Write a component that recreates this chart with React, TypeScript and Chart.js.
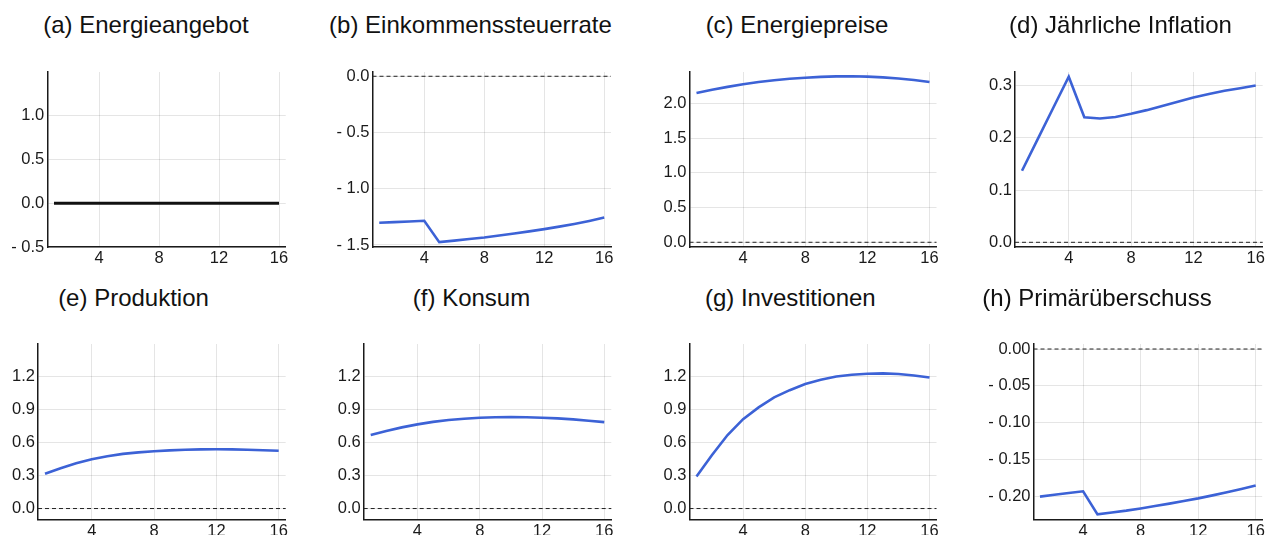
import React, { useEffect, useRef } from "react";
import { Chart, registerables } from "chart.js";

Chart.register(...registerables);

// ---------- data ----------
const periods = [1, 2, 3, 4, 5, 6, 7, 8, 9, 10, 11, 12, 13, 14, 15, 16];
const xTicks = [4, 8, 12, 16];

const energieangebot = [0, 0, 0, 0, 0, 0, 0, 0, 0, 0, 0, 0, 0, 0, 0, 0];
const einkommenssteuerrate = [-1.303, -1.297, -1.291, -1.285, -1.475, -1.461, -1.447, -1.433, -1.416, -1.398, -1.379, -1.359, -1.337, -1.313, -1.286, -1.256];
const energiepreise = [2.148, 2.195, 2.236, 2.273, 2.305, 2.332, 2.352, 2.368, 2.38, 2.387, 2.388, 2.383, 2.372, 2.357, 2.334, 2.306];
const inflation = [0.137, 0.197, 0.257, 0.317, 0.2395, 0.237, 0.24, 0.246, 0.253, 0.261, 0.269, 0.277, 0.284, 0.29, 0.295, 0.3];
const produktion = [0.318, 0.368, 0.412, 0.449, 0.477, 0.498, 0.512, 0.522, 0.53, 0.536, 0.539, 0.54, 0.539, 0.536, 0.532, 0.527];
const konsum = [0.67, 0.707, 0.74, 0.767, 0.79, 0.807, 0.819, 0.827, 0.832, 0.834, 0.832, 0.828, 0.822, 0.813, 0.801, 0.788];
const investitionen = [0.291, 0.488, 0.67, 0.815, 0.922, 1.013, 1.079, 1.136, 1.175, 1.203, 1.22, 1.229, 1.232, 1.226, 1.213, 1.194];
const primaerueberschuss = [-0.2, -0.1975, -0.195, -0.1928, -0.224, -0.2215, -0.219, -0.216, -0.2128, -0.2095, -0.206, -0.2024, -0.1983, -0.1942, -0.1898, -0.185];

const titles = [
  "(a) Energieangebot",
  "(b) Einkommenssteuerrate",
  "(c) Energiepreise",
  "(d) Jährliche Inflation",
  "(e) Produktion",
  "(f) Konsum",
  "(g) Investitionen",
  "(h) Primärüberschuss",
];

const yTicksA = [-0.5, 0, 0.5, 1.0];
const yTicksB = [-1.5, -1.0, -0.5, 0];
const yTicksC = [0, 0.5, 1.0, 1.5, 2.0];
const yTicksD = [0, 0.1, 0.2, 0.3];
const yTicksEFG = [0, 0.3, 0.6, 0.9, 1.2];
const yTicksH = [-0.2, -0.15, -0.1, -0.05, 0];

// ---------- layout / style ----------
const FONT = "'Liberation Sans', Arial, Helvetica, sans-serif";
const BLUE = "#3c62d6";
const W = 1267;

type Panel = {
  title: string;
  values: number[];
  yTicks: number[];
  decimals: number;
  yMin: number;
  yMax: number;
  color: string;
  zero: boolean;
  cellLeft: number;
  L: number;
  R: number;
  T: number;
  B: number;
  titleX: number;
  titleY: number;
};

const panels: Panel[] = [
  { title: titles[0], values: energieangebot, yTicks: yTicksA, decimals: 1, yMin: -0.5, yMax: 1.5, color: "#111", zero: false, cellLeft: 0, L: 47.25, R: 285.75, T: 72, B: 247, titleX: 146, titleY: 25 },
  { title: titles[1], values: einkommenssteuerrate, yTicks: yTicksB, decimals: 1, yMin: -1.518, yMax: 0.038, color: BLUE, zero: true, cellLeft: 316, L: 372.5, R: 611, T: 72, B: 247, titleX: 470.5, titleY: 25 },
  { title: titles[2], values: energiepreise, yTicks: yTicksC, decimals: 1, yMin: -0.068, yMax: 2.45, color: BLUE, zero: true, cellLeft: 633, L: 689.5, R: 936.5, T: 72, B: 247, titleX: 797, titleY: 25 },
  { title: titles[3], values: inflation, yTicks: yTicksD, decimals: 1, yMin: -0.009, yMax: 0.326, color: BLUE, zero: true, cellLeft: 950, L: 1015, R: 1262.7, T: 72, B: 247, titleX: 1120.5, titleY: 25 },
  { title: titles[4], values: produktion, yTicks: yTicksEFG, decimals: 1, yMin: -0.1, yMax: 1.5, color: BLUE, zero: true, cellLeft: 0, L: 38, R: 285.7, T: 344, B: 519.5, titleX: 133.5, titleY: 298 },
  { title: titles[5], values: konsum, yTicks: yTicksEFG, decimals: 1, yMin: -0.1, yMax: 1.5, color: BLUE, zero: true, cellLeft: 316, L: 363.7, R: 611.3, T: 344, B: 519.5, titleX: 471.5, titleY: 298 },
  { title: titles[6], values: investitionen, yTicks: yTicksEFG, decimals: 1, yMin: -0.1, yMax: 1.5, color: BLUE, zero: true, cellLeft: 633, L: 689.5, R: 936.5, T: 344, B: 519.5, titleX: 790.3, titleY: 298 },
  { title: titles[7], values: primaerueberschuss, yTicks: yTicksH, decimals: 2, yMin: -0.231, yMax: 0.0068, color: BLUE, zero: true, cellLeft: 950, L: 1033.5, R: 1262.5, T: 344, B: 519.5, titleX: 1097, titleY: 298 },
];

const X_MIN = 0.55;
const X_MAX = 16.45;
const PAD_TOP = 14;
const X_AXIS_H = 30;

const zeroLinePlugin = {
  id: "zeroLine",
  beforeDatasetsDraw(chart: any, _args: any, opts: any) {
    if (!opts || !opts.show) return;
    const { ctx, chartArea, scales } = chart;
    const py = scales.y.getPixelForValue(0);
    ctx.save();
    ctx.setLineDash([4, 3]);
    ctx.strokeStyle = "#222";
    ctx.lineWidth = 1;
    ctx.beginPath();
    ctx.moveTo(chartArea.left, py);
    ctx.lineTo(chartArea.right, py);
    ctx.stroke();
    ctx.restore();
  },
};

function fmt(v: number, d: number) {
  const s = Math.abs(v).toFixed(d);
  return v < -1e-9 ? "- " + s : s;
}

function PanelChart({ p }: { p: Panel }) {
  const ref = useRef<HTMLCanvasElement | null>(null);
  const canvasW = Math.min(W - p.cellLeft, Math.ceil(p.R - p.cellLeft + 14));
  const padRight = canvasW - (p.R - p.cellLeft);
  const canvasTop = p.T - PAD_TOP;
  const canvasH = Math.ceil(p.B - canvasTop + X_AXIS_H);
  const xAxisH = canvasH - (p.B - canvasTop);

  useEffect(() => {
    if (!ref.current) return;
    const chart = new Chart(ref.current, {
      type: "line",
      data: {
        datasets: [
          {
            data: periods.map((x, i) => ({ x, y: p.values[i] })),
            borderColor: p.color,
            borderWidth: p.zero ? 2.6 : 3,
            pointRadius: 0,
            tension: 0,
            fill: false,
          },
        ],
      },
      options: {
        animation: false,
        responsive: false,
        devicePixelRatio: 1,
        layout: { padding: { top: PAD_TOP, right: padRight, left: 0, bottom: 0 } },
        plugins: {
          legend: { display: false },
          tooltip: { enabled: false },
          // @ts-ignore
          zeroLine: { show: p.zero },
        },
        scales: {
          x: {
            type: "linear",
            min: X_MIN,
            max: X_MAX,
            afterBuildTicks: (s: any) => {
              s.ticks = xTicks.map((v) => ({ value: v }));
            },
            afterFit: (s: any) => {
              s.height = xAxisH;
            },
            grid: { color: "rgba(0,0,0,0.1)", lineWidth: 1, drawTicks: false },
            border: { display: true, color: "#1a1a1a", width: 1.5 },
            ticks: {
              padding: 2,
              color: "#1a1a1a",
              font: { family: FONT, size: 16.5 },
              maxRotation: 0,
              autoSkip: false,
              callback: (v: any) => String(v),
            },
          },
          y: {
            type: "linear",
            min: p.yMin,
            max: p.yMax,
            afterBuildTicks: (s: any) => {
              s.ticks = p.yTicks.map((v) => ({ value: v }));
            },
            afterFit: (s: any) => {
              s.width = p.L - p.cellLeft;
            },
            grid: { color: "rgba(0,0,0,0.1)", lineWidth: 1, drawTicks: false },
            border: { display: true, color: "#1a1a1a", width: 1.5 },
            ticks: {
              padding: 3,
              color: "#1a1a1a",
              font: { family: FONT, size: 16.5 },
              autoSkip: false,
              callback: (v: any) => fmt(Number(v), p.decimals),
            },
          },
        },
      },
      plugins: [zeroLinePlugin],
    } as any);
    return () => chart.destroy();
  }, []);

  return (
    <>
      <canvas
        ref={ref}
        width={canvasW}
        height={canvasH}
        style={{ position: "absolute", left: p.cellLeft, top: canvasTop, width: canvasW, height: canvasH }}
      />
      <div
        style={{
          position: "absolute",
          left: p.titleX,
          top: p.titleY - 13,
          transform: "translateX(-50%)",
          whiteSpace: "nowrap",
          fontFamily: FONT,
          fontSize: 24,
          lineHeight: "26px",
          color: "#111",
        }}
      >
        {p.title}
      </div>
    </>
  );
}

export default function App() {
  return (
    <div style={{ position: "absolute", left: 0, top: 0, width: W, height: 535, background: "#fff", overflow: "hidden" }}>
      {panels.map((p, i) => (
        <PanelChart key={i} p={p} />
      ))}
    </div>
  );
}
